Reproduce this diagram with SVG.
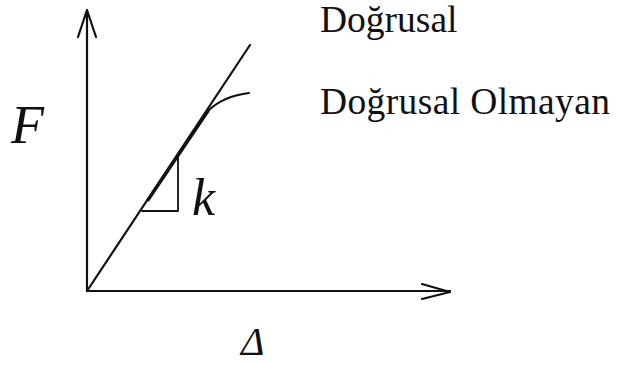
<svg xmlns="http://www.w3.org/2000/svg" width="617" height="365" viewBox="0 0 617 365">
<style>
.ln{fill:none;stroke:#111;stroke-width:2.2;stroke-linecap:round;stroke-linejoin:round}
.t{font-family:"Liberation Serif","Times New Roman",serif;fill:#111}
.i{font-style:italic}
</style>
<rect width="617" height="365" fill="#fff"/>
<g id="connectors">
<path class="ln" d="M87,291 V10 M78,37 L87,10 L96,37"/>
<path class="ln" d="M87,291 H450 M422,284 L450,292 L422,299"/>
<path class="ln" d="M87,291 L250,45"/>
<path class="ln" style="stroke-width:3.2" d="M148,200 L208,111"/>
<path class="ln" d="M209,110 Q224,96 249,93"/>
<path class="ln" style="stroke-width:1.8" d="M142,211 H178 V156"/>
</g>
<g id="label-F"><text class="t i" x="11" y="143" font-size="54">F</text></g>
<g id="label-k"><text class="t i" x="192" y="215" font-size="52">k</text></g>
<g id="label-delta"><text class="t i" x="241" y="355" font-size="40">Δ</text></g>
<g id="label-linear"><text class="t" x="320" y="32" font-size="37.5">Doğrusal</text></g>
<g id="label-nonlinear"><text class="t" x="320" y="114" font-size="37.5" textLength="290" lengthAdjust="spacing">Doğrusal Olmayan</text></g>
</svg>
